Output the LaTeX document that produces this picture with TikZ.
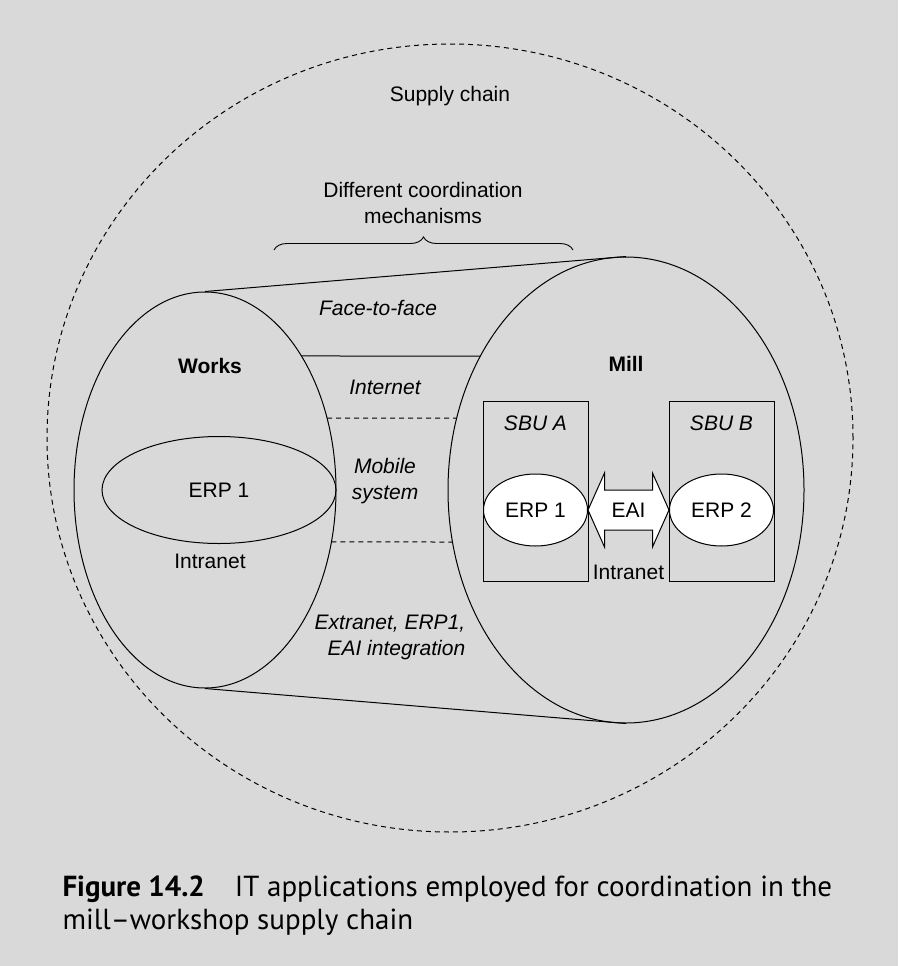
\documentclass[tikz,border=0pt]{standalone}
\usepackage{fontspec}
\setmainfont{Liberation Sans}
\newfontfamily\capfont[Ligatures=TeX]{PT Sans}
\usetikzlibrary{positioning,shapes.geometric,decorations.pathreplacing}
\definecolor{panelgray}{RGB}{217,217,217}

\begin{document}
\begin{tikzpicture}[x=1pt, y=-1pt, line width=1pt, font=\fontsize{21}{26}\selectfont,
        shell/.style={draw, ellipse, inner sep=0pt},
        erp/.style={draw, ellipse, fill=white, minimum width=104pt, minimum height=72pt, inner sep=0pt},
        sbu/.style={draw, minimum width=105pt, minimum height=180pt, inner sep=0pt},
        link/.style={line width=1pt, dash pattern=on 5pt off 4pt},
        mech/.style={font=\fontsize{21}{26}\selectfont\itshape}]
        \fill[panelgray] (0,0) rectangle (898,966);
        % supply chain
        \node[shell, link, minimum width=806pt, minimum height=788pt] (chain) at (450,438) {};
        \node (supply) at (450,96) {Supply chain};
        \node[align=center] (coord) at (423,203) {Different coordination\\mechanisms};
        \coordinate (bl) at (274,250);
        \coordinate (br) at (573,250);
        \draw[line width=0.9pt, decorate, decoration={brace, amplitude=13pt}] (bl) -- (br);
        % works and mill
        \node[shell, minimum width=262pt, minimum height=396pt] (works) at (205,490) {};
        \node[shell, minimum width=356pt, minimum height=466pt] (mill) at (626,490) {};
        \draw (works.north) -- (mill.north);
        \draw (works.south) -- (mill.south);
        \coordinate (w1) at ([shift={(-42.6:131 and 198)}]works.center);
        \coordinate (m1) at ([shift={(-144.9:178 and 233)}]mill.center);
        \coordinate (w2) at ([shift={(-21.3:131 and 198)}]works.center);
        \coordinate (m2) at ([shift={(-162.0:178 and 233)}]mill.center);
        \coordinate (w3) at ([shift={(15.2:131 and 198)}]works.center);
        \coordinate (m3) at ([shift={(167.1:178 and 233)}]mill.center);
        \draw (w1) -- (m1);
        \draw[link] (w2) -- (m2);
        \draw[link] (w3) -- (m3);
        \node[mech] (face) at (378,308) {Face-to-face};
        \node[mech] (internet) at (385,387) {Internet};
        \node[mech, align=center] (mobile) at (385,481) {Mobile\\system};
        \node[mech, align=right] (extranet) at (390,637) {Extranet, ERP1,\\EAI integration};
        % works side
        \node[font=\fontsize{21}{26}\selectfont\bfseries] (workslbl) at (210,366) {Works};
        \node[shell, minimum width=234pt, minimum height=107pt] (erpw) at (219,490) {ERP 1};
        \node (intrw) at (210,561) {Intranet};
        % mill side
        \node[font=\fontsize{21}{26}\selectfont\bfseries] (milllbl) at (626,364) {Mill};
        \node[sbu] (sbua) at (535.5,491) {};
        \node[sbu] (sbub) at (721.5,491) {};
        \node[mech, below=11pt of sbua.north] {SBU A};
        \node[mech, below=11pt of sbub.north] {SBU B};
        \node[erp] (erpa) at (535.5,510) {ERP 1};
        \node[erp] (erpb) at (721.5,510) {ERP 2};
        \draw[fill=white] (erpa.east) -- ([shift={(16.5,-37)}]erpa.east) -- ([shift={(16.5,-20)}]erpa.east)
            -- ([shift={(-16.5,-20)}]erpb.west) -- ([shift={(-16.5,-37)}]erpb.west) -- (erpb.west)
            -- ([shift={(-16.5,37)}]erpb.west) -- ([shift={(-16.5,20)}]erpb.west)
            -- ([shift={(16.5,20)}]erpa.east) -- ([shift={(16.5,37)}]erpa.east) -- cycle;
        \node (eai) at (628.5,510) {EAI};
        \node (intrm) at (628.5,572) {Intranet};
        % caption
        \node[anchor=base west, align=left, inner sep=0pt, font=\capfont\fontsize{29}{33}\selectfont] (caption) at (62,929)
            {\textbf{Figure 14.2}\hspace{30pt}IT applications employed for coordination in the\\mill–workshop supply chain};
    \end{tikzpicture}
\end{document}
